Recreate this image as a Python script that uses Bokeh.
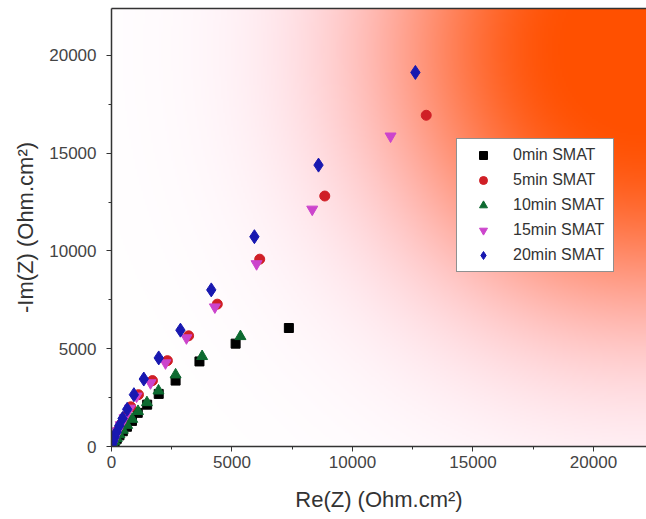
import numpy as np
from bokeh.plotting import figure
from bokeh.models import Range1d, LinearAxis, Legend, LegendItem, FixedTicker
from bokeh.embed import file_html
from bokeh.resources import INLINE

# ---------------- data ----------------
series_names = ["0min SMAT", "5min SMAT", "10min SMAT", "15min SMAT", "20min SMAT"]

re_0 = [60, 130, 220, 330, 470, 640, 850, 1090, 1480, 1960, 2660, 3650, 5150, 7360]
im_0 = [110, 240, 390, 570, 780, 1010, 1310, 1720, 2140, 2690, 3370, 4350, 5260, 6060]

re_5 = [45, 100, 170, 270, 400, 570, 800, 1120, 1700, 2320, 3200, 4390, 6150, 8850, 13060]
im_5 = [140, 320, 550, 830, 1150, 1530, 2030, 2650, 3370, 4390, 5660, 7280, 9580, 12810, 16940]

re_10 = [60, 130, 220, 330, 470, 650, 860, 1100, 1470, 1950, 2660, 3760, 5350]
im_10 = [120, 260, 420, 610, 840, 1090, 1400, 1800, 2250, 2850, 3670, 4610, 5630]

re_15 = [40, 90, 160, 250, 380, 540, 760, 1040, 1620, 2240, 3110, 4290, 6020, 8330, 11580]
im_15 = [130, 300, 520, 790, 1100, 1460, 1950, 2570, 3250, 4270, 5550, 7130, 9340, 12130, 15870]

re_20 = [30, 70, 130, 210, 320, 460, 650, 930, 1340, 1960, 2860, 4140, 5930, 8590, 12610]
im_20 = [110, 270, 480, 740, 1060, 1430, 1900, 2650, 3450, 4530, 5950, 8010, 10730, 14390, 19130]

x_ticks = [0, 5000, 10000, 15000, 20000]
y_ticks = [0, 5000, 10000, 15000, 20000]
x_minor = [2500, 7500, 12500, 17500]
y_minor = [2500, 7500, 12500, 17500, 22500]

X_MAX = 22200
Y_MAX = 22400

# ---------------- styles ----------------
colors = ["#000000", "#d01f26", "#0d6a30", "#cc44cc", "#1818b0"]
markers = ["square", "circle", "triangle", "inverted_triangle", "diamond"]
sizes = [9, 10, 11, 11, 14]
FONT = "Liberation Sans"

p = figure(width=646, height=519,
           x_range=Range1d(0, X_MAX), y_range=Range1d(0, Y_MAX),
           output_backend="svg", toolbar_location=None,
           min_border_left=111, min_border_right=0,
           min_border_top=8, min_border_bottom=73)
p.outline_line_color = None
p.grid.visible = False
p.background_fill_color = "white"
p.border_fill_color = "white"

# background radial gradient (style only)
W, H = 535.0, 438.0
nx, ny = 268, 219
PX, PYB = np.meshgrid(np.linspace(0, W, nx), np.linspace(0, H, ny))
PYT = H - PYB
d = np.hypot(W - PX, PYT - 40.0)
inten = np.exp(-(np.clip(d - 70.0, 0, None) / 215.0) ** 2)
img = np.zeros((ny, nx), dtype=np.uint32)
view = img.view(dtype=np.uint8).reshape((ny, nx, 4))
view[..., 0] = 255
view[..., 1] = np.clip(255 - 175 * inten, 0, 255).astype(np.uint8)
view[..., 2] = np.clip(255 * (1 - inten ** 1.3), 0, 255).astype(np.uint8)
view[..., 3] = 255
p.image_rgba(image=[img], x=0, y=0, dw=X_MAX, dh=Y_MAX, level="image")

xs = [re_0, re_5, re_10, re_15, re_20]
ys = [im_0, im_5, im_10, im_15, im_20]
renderers = []
for x, y, c, m, s in zip(xs, ys, colors, markers, sizes):
    r = p.scatter(x, y, marker=m, size=s, fill_color=c, line_color=c)
    renderers.append(r)

xax = p.below[0]
yax = p.left[0]
xax.ticker = FixedTicker(ticks=x_ticks, minor_ticks=x_minor)
yax.ticker = FixedTicker(ticks=y_ticks, minor_ticks=y_minor)
xax.axis_label = "Re(Z) (Ohm.cm\u00b2)"
yax.axis_label = "-Im(Z) (Ohm.cm\u00b2)"

for ax in (xax, yax):
    ax.axis_line_color = "#333333"
    ax.axis_line_width = 1.5
    ax.major_tick_line_color = "#333333"
    ax.major_tick_out = 5
    ax.major_tick_in = 0
    ax.minor_tick_line_color = "#333333"
    ax.minor_tick_out = 3
    ax.minor_tick_in = 0
    ax.major_label_text_font = FONT
    ax.major_label_text_font_size = "17px"
    ax.major_label_text_color = "#444444"
    ax.axis_label_text_font = FONT
    ax.axis_label_text_font_size = "22px"
    ax.axis_label_text_font_style = "normal"
    ax.axis_label_text_color = "#333333"

xax.major_label_standoff = 4
xax.axis_label_standoff = 16
yax.major_label_standoff = 10
yax.axis_label_standoff = 8

# top frame line
top = LinearAxis(ticker=FixedTicker(ticks=[]), major_label_text_font_size="0px",
                 major_tick_out=0, major_tick_in=0, minor_tick_out=0, minor_tick_in=0,
                 major_label_standoff=0, axis_line_color="#333333", axis_line_width=1.5)
p.add_layout(top, "above")

legend = Legend(items=[LegendItem(label=n, renderers=[r]) for n, r in zip(series_names, renderers)],
                location=(345, 174), orientation="vertical",
                padding=6, spacing=5, margin=0,
                glyph_width=40, glyph_height=20, label_height=20, label_width=94,
                label_standoff=10,
                label_text_font=FONT, label_text_font_size="16px", label_text_color="#333333",
                border_line_color="#222222", border_line_width=1,
                background_fill_color="white", background_fill_alpha=1.0)
p.add_layout(legend)

open("out.html", "w").write(file_html(p, INLINE))
